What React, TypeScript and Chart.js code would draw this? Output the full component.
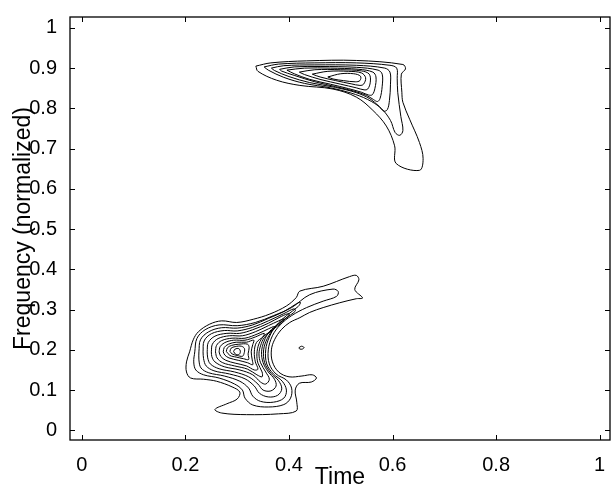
import React, { useEffect, useRef } from "react";
import { Chart, registerables } from "chart.js";

Chart.register(...registerables);

const X_TICKS = [0, 0.2, 0.4, 0.6, 0.8, 1];
const X_LABELS = ["0", "0.2", "0.4", "0.6", "0.8", "1"];
const Y_TICKS = [0, 0.1, 0.2, 0.3, 0.4, 0.5, 0.6, 0.7, 0.8, 0.9, 1];
const Y_LABELS = ["0", "0.1", "0.2", "0.3", "0.4", "0.5", "0.6", "0.7", "0.8", "0.9", "1"];

// Upper component contours (Time, Frequency)
const UP_1 = [[0.336,0.905],[0.365,0.913],[0.434,0.918],[0.53,0.919],[0.62,0.909],[0.625,0.898],[0.617,0.885],[0.618,0.84],[0.62,0.815],[0.633,0.773],[0.652,0.715],[0.659,0.675],[0.652,0.646],[0.607,0.663],[0.604,0.707],[0.588,0.756],[0.562,0.795],[0.53,0.828],[0.485,0.848],[0.421,0.857],[0.376,0.87],[0.34,0.892],[0.336,0.905]];
const UP_2 = [[0.352,0.903],[0.38,0.91],[0.45,0.913],[0.53,0.913],[0.595,0.907],[0.608,0.9],[0.609,0.875],[0.61,0.84],[0.616,0.78],[0.62,0.745],[0.614,0.733],[0.605,0.74],[0.596,0.77],[0.578,0.8],[0.552,0.822],[0.52,0.838],[0.48,0.851],[0.43,0.862],[0.39,0.877],[0.36,0.895],[0.352,0.903]];
const UP_3 = [[0.366,0.9],[0.39,0.906],[0.45,0.908],[0.53,0.907],[0.585,0.9],[0.595,0.89],[0.596,0.86],[0.594,0.82],[0.59,0.797],[0.583,0.793],[0.574,0.805],[0.556,0.824],[0.53,0.839],[0.49,0.852],[0.44,0.864],[0.4,0.879],[0.372,0.894],[0.366,0.9]];
const UP_4 = [[0.382,0.897],[0.41,0.903],[0.46,0.904],[0.53,0.902],[0.572,0.895],[0.58,0.885],[0.58,0.855],[0.576,0.825],[0.571,0.817],[0.563,0.822],[0.55,0.832],[0.525,0.843],[0.49,0.854],[0.45,0.866],[0.41,0.882],[0.385,0.893],[0.382,0.897]];
const UP_5 = [[0.396,0.895],[0.43,0.9],[0.48,0.9],[0.535,0.897],[0.562,0.89],[0.568,0.878],[0.566,0.85],[0.561,0.834],[0.554,0.833],[0.54,0.84],[0.515,0.849],[0.48,0.86],[0.44,0.872],[0.41,0.886],[0.396,0.895]];
const UP_6 = [[0.42,0.89],[0.45,0.896],[0.5,0.896],[0.54,0.893],[0.555,0.885],[0.557,0.865],[0.552,0.848],[0.545,0.846],[0.53,0.851],[0.5,0.86],[0.46,0.872],[0.43,0.884],[0.42,0.89]];
const UP_7 = [[0.445,0.885],[0.475,0.892],[0.515,0.892],[0.54,0.888],[0.548,0.876],[0.544,0.86],[0.537,0.857],[0.52,0.861],[0.49,0.869],[0.46,0.878],[0.445,0.885]];
const UP_8 = [[0.475,0.878],[0.5,0.886],[0.525,0.886],[0.538,0.88],[0.537,0.869],[0.528,0.866],[0.505,0.869],[0.485,0.873],[0.475,0.878]];

// Lower component contours
const LO_1 = [[0.208,0.195],[0.215,0.225],[0.225,0.245],[0.247,0.264],[0.27,0.272],[0.299,0.268],[0.331,0.276],[0.363,0.289],[0.395,0.309],[0.414,0.33],[0.421,0.346],[0.466,0.358],[0.517,0.382],[0.53,0.385],[0.535,0.374],[0.527,0.35],[0.542,0.329],[0.53,0.327],[0.498,0.317],[0.466,0.305],[0.44,0.293],[0.421,0.28],[0.4015,0.268],[0.385,0.25],[0.372,0.225],[0.366,0.2],[0.368,0.17],[0.38,0.145],[0.4,0.133],[0.425,0.135],[0.445,0.138],[0.453,0.13],[0.443,0.12],[0.42,0.117],[0.412,0.1],[0.415,0.07],[0.414,0.048],[0.38,0.041],[0.318,0.039],[0.27,0.043],[0.257,0.052],[0.28,0.066],[0.3,0.078],[0.305,0.095],[0.29,0.108],[0.26,0.122],[0.235,0.127],[0.21,0.13],[0.202,0.145],[0.202,0.17],[0.208,0.195]];
const LO_2 = [[0.218,0.195],[0.222,0.228],[0.238,0.25],[0.265,0.262],[0.3,0.26],[0.335,0.268],[0.37,0.285],[0.405,0.305],[0.44,0.337],[0.485,0.351],[0.495,0.345],[0.492,0.333],[0.466,0.321],[0.434,0.305],[0.405,0.285],[0.383,0.262],[0.368,0.235],[0.36,0.2],[0.362,0.165],[0.375,0.14],[0.395,0.125],[0.405,0.105],[0.403,0.08],[0.39,0.064],[0.36,0.058],[0.33,0.063],[0.315,0.08],[0.31,0.1],[0.295,0.115],[0.265,0.13],[0.235,0.138],[0.22,0.15],[0.216,0.17],[0.218,0.195]];
const LO_3 = [[0.226,0.195],[0.229,0.225],[0.245,0.245],[0.27,0.255],[0.3,0.254],[0.33,0.262],[0.36,0.278],[0.39,0.295],[0.415,0.315],[0.422,0.318],[0.418,0.308],[0.395,0.285],[0.375,0.26],[0.362,0.232],[0.355,0.2],[0.357,0.165],[0.37,0.14],[0.387,0.122],[0.395,0.1],[0.39,0.08],[0.37,0.07],[0.345,0.072],[0.33,0.085],[0.322,0.105],[0.305,0.122],[0.275,0.135],[0.245,0.143],[0.23,0.155],[0.226,0.175],[0.226,0.195]];
const LO_4 = [[0.234,0.195],[0.236,0.222],[0.25,0.24],[0.275,0.248],[0.3,0.247],[0.33,0.256],[0.36,0.272],[0.39,0.29],[0.41,0.302],[0.412,0.296],[0.393,0.278],[0.372,0.255],[0.358,0.228],[0.351,0.2],[0.353,0.168],[0.365,0.142],[0.38,0.123],[0.386,0.103],[0.378,0.087],[0.36,0.083],[0.343,0.092],[0.333,0.11],[0.315,0.128],[0.285,0.14],[0.255,0.148],[0.24,0.16],[0.235,0.178],[0.234,0.195]];
const LO_5 = [[0.242,0.195],[0.244,0.218],[0.257,0.234],[0.28,0.241],[0.305,0.241],[0.33,0.25],[0.36,0.266],[0.385,0.283],[0.4,0.29],[0.398,0.282],[0.38,0.265],[0.362,0.245],[0.352,0.222],[0.347,0.195],[0.35,0.168],[0.36,0.145],[0.372,0.127],[0.375,0.11],[0.365,0.098],[0.35,0.1],[0.34,0.115],[0.322,0.133],[0.295,0.145],[0.265,0.153],[0.248,0.165],[0.243,0.18],[0.242,0.195]];
const LO_6 = [[0.25,0.195],[0.252,0.214],[0.263,0.228],[0.285,0.235],[0.31,0.235],[0.335,0.245],[0.36,0.26],[0.38,0.272],[0.39,0.277],[0.387,0.268],[0.368,0.25],[0.352,0.23],[0.345,0.21],[0.342,0.19],[0.345,0.168],[0.355,0.145],[0.362,0.127],[0.355,0.115],[0.345,0.12],[0.33,0.138],[0.305,0.15],[0.275,0.158],[0.257,0.17],[0.251,0.183],[0.25,0.195]];
const LO_7 = [[0.258,0.195],[0.26,0.211],[0.27,0.223],[0.29,0.229],[0.315,0.229],[0.34,0.24],[0.36,0.252],[0.372,0.258],[0.37,0.25],[0.352,0.235],[0.342,0.215],[0.338,0.19],[0.34,0.167],[0.348,0.145],[0.348,0.133],[0.338,0.138],[0.32,0.152],[0.295,0.16],[0.272,0.168],[0.261,0.18],[0.258,0.195]];
const LO_8 = [[0.265,0.195],[0.267,0.208],[0.276,0.218],[0.293,0.224],[0.315,0.224],[0.335,0.232],[0.352,0.241],[0.35,0.233],[0.337,0.218],[0.333,0.195],[0.335,0.17],[0.34,0.152],[0.333,0.15],[0.318,0.16],[0.296,0.167],[0.278,0.174],[0.268,0.184],[0.265,0.195]];
const LO_9 = [[0.273,0.195],[0.275,0.206],[0.283,0.214],[0.298,0.219],[0.318,0.219],[0.332,0.224],[0.33,0.213],[0.327,0.195],[0.329,0.175],[0.33,0.163],[0.32,0.168],[0.302,0.174],[0.284,0.18],[0.276,0.187],[0.273,0.195]];
const LO_10 = [[0.279,0.196],[0.281,0.205],[0.289,0.211],[0.303,0.214],[0.32,0.214],[0.323,0.205],[0.321,0.19],[0.322,0.176],[0.312,0.178],[0.298,0.182],[0.286,0.186],[0.279,0.196]];
const LO_11 = [[0.286,0.196],[0.288,0.204],[0.296,0.208],[0.308,0.209],[0.314,0.203],[0.313,0.19],[0.31,0.184],[0.3,0.186],[0.29,0.19],[0.286,0.196]];
const LO_12 = [[0.293,0.196],[0.296,0.202],[0.303,0.203],[0.306,0.197],[0.304,0.189],[0.297,0.189],[0.293,0.196]];
const SPOT = [[0.419,0.205],[0.424,0.209],[0.429,0.206],[0.426,0.202],[0.421,0.202],[0.419,0.205]];

const CONTOURS = [UP_1, UP_2, UP_3, UP_4, UP_5, UP_6, UP_7, UP_8, LO_1, LO_2, LO_3, LO_4, LO_5, LO_6, LO_7, LO_8, LO_9, LO_10, LO_11, LO_12, SPOT];

const FONT = "'Liberation Sans', Arial, Helvetica, sans-serif";

export default function App() {
  const ref = useRef<HTMLCanvasElement>(null);

  useEffect(() => {
    if (!ref.current) return;
    const frame = {
      id: "frame",
      afterDraw(chart: any) {
        const { ctx, chartArea: a, scales } = chart;
        const xs = scales.x;
        const ys = scales.y;
        const tl = 5;
        ctx.save();
        ctx.strokeStyle = "#000";
        ctx.lineWidth = 1;
        ctx.beginPath();
        X_TICKS.forEach((v) => {
          const px = Math.round(xs.getPixelForValue(v)) + 0.5;
          ctx.moveTo(px, a.bottom);
          ctx.lineTo(px, a.bottom - tl);
          ctx.moveTo(px, a.top);
          ctx.lineTo(px, a.top + tl);
        });
        Y_TICKS.forEach((v) => {
          const py = Math.round(ys.getPixelForValue(v)) + 0.5;
          ctx.moveTo(a.left, py);
          ctx.lineTo(a.left + tl, py);
          ctx.moveTo(a.right, py);
          ctx.lineTo(a.right - tl, py);
        });
        ctx.stroke();
        ctx.lineWidth = 1.3;
        ctx.strokeRect(a.left, a.top, a.right - a.left, a.bottom - a.top);
        ctx.restore();
      },
    };

    const chart = new Chart(ref.current, {
      type: "scatter",
      data: {
        datasets: CONTOURS.map((c) => ({
          data: c.map(([x, y]) => ({ x, y })),
          showLine: true,
          pointRadius: 0,
          borderColor: "#000",
          borderWidth: 1,
          tension: 0.35,
          fill: false,
        })),
      },
      options: {
        responsive: false,
        animation: false,
        devicePixelRatio: 1,
        layout: { padding: { top: 9, right: 4, left: 0, bottom: 0 } },
        plugins: { legend: { display: false }, tooltip: { enabled: false } },
        scales: {
          x: {
            type: "linear",
            min: -0.023,
            max: 1.02,
            grid: { display: false },
            border: { display: false },
            afterBuildTicks: (s: any) => {
              s.ticks = X_TICKS.map((v) => ({ value: v }));
            },
            afterFit: (s: any) => {
              s.height = 55;
            },
            ticks: {
              autoSkip: false,
              maxRotation: 0,
              padding: 5,
              color: "#000",
              font: { family: FONT, size: 20 },
              callback: (_v: any, i: number) => X_LABELS[i],
            },
            title: {
              display: true,
              text: "Time",
              color: "#000",
              font: { family: FONT, size: 23 },
              padding: { top: 0, bottom: 4 },
            },
          },
          y: {
            type: "linear",
            min: -0.024,
            max: 1.027,
            grid: { display: false },
            border: { display: false },
            afterBuildTicks: (s: any) => {
              s.ticks = Y_TICKS.map((v) => ({ value: v }));
            },
            afterFit: (s: any) => {
              s.width = 70;
            },
            ticks: {
              autoSkip: false,
              padding: 5,
              color: "#000",
              font: { family: FONT, size: 20 },
              callback: (_v: any, i: number) => Y_LABELS[i],
            },
            title: {
              display: true,
              text: "Frequency (normalized)",
              color: "#000",
              font: { family: FONT, size: 23 },
              padding: { top: 10, bottom: 0 },
            },
          },
        },
      },
      plugins: [frame],
    } as any);
    return () => chart.destroy();
  }, []);

  return (
    <div style={{ position: "absolute", left: 0, top: 0, width: 614, height: 495, background: "#fff" }}>
      <canvas ref={ref} width={614} height={495} style={{ display: "block" }} />
    </div>
  );
}
